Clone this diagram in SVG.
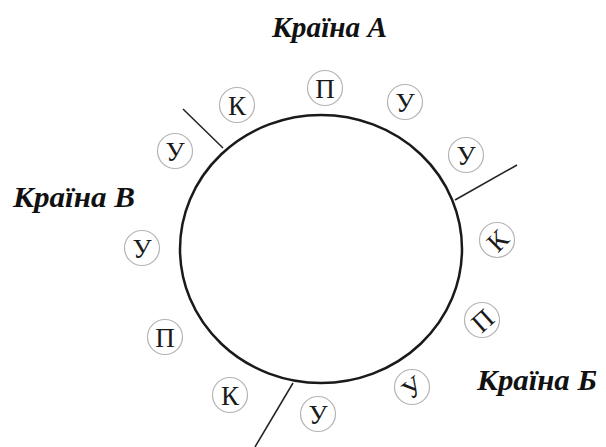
<svg xmlns="http://www.w3.org/2000/svg" width="606" height="447" viewBox="0 0 606 447">
<style>
.lbl{font-family:"Liberation Serif","Times New Roman",serif;font-weight:bold;font-style:italic;font-size:30px;fill:#111}
.sc{fill:none;stroke:#b4b4b4;stroke-width:1.2}
.lt{font-family:"Liberation Serif","Times New Roman",serif;font-size:27px;fill:#1a1a1a;text-anchor:middle;dominant-baseline:central}
.sep{stroke:#222;stroke-width:1.5;fill:none}
</style>
<rect width="606" height="447" fill="#fff"/>
<g id="world">
<ellipse cx="321" cy="249" rx="141" ry="134" fill="none" stroke="#1a1a1a" stroke-width="2.5"/>
</g>
<g id="connectors">
<line class="sep" x1="183" y1="109" x2="223" y2="148"/>
<line class="sep" x1="455" y1="200" x2="517" y2="165"/>
<line class="sep" x1="293" y1="383" x2="255" y2="447"/>
</g>
<g id="label-a"><text class="lbl" x="272" y="37" textLength="115" lengthAdjust="spacingAndGlyphs">Країна А</text></g>
<g id="label-v"><text class="lbl" x="13" y="207" textLength="122" lengthAdjust="spacingAndGlyphs">Країна В</text></g>
<g id="label-b"><text class="lbl" x="477" y="390" textLength="120" lengthAdjust="spacingAndGlyphs">Країна Б</text></g>
<g id="n1"><circle class="sc" cx="237" cy="105" r="17.5"/><text class="lt" x="237" y="106">К</text></g>
<g id="n2"><circle class="sc" cx="325" cy="88" r="17.5"/><text class="lt" x="325" y="89">П</text></g>
<g id="n3"><circle class="sc" cx="405" cy="102" r="17.5"/><text class="lt" x="405" y="103">У</text></g>
<g id="n4"><circle class="sc" cx="175" cy="151" r="17.5"/><text class="lt" x="175" y="152">У</text></g>
<g id="n5"><circle class="sc" cx="466" cy="155" r="17.5"/><text class="lt" x="466" y="156">У</text></g>
<g id="n6"><circle class="sc" cx="497" cy="240" r="17.5"/><text class="lt" x="497" y="241" transform="rotate(-45 497 240)">К</text></g>
<g id="n7"><circle class="sc" cx="482" cy="320" r="17.5"/><text class="lt" x="482" y="321" transform="rotate(-42 482 320)">П</text></g>
<g id="n8"><circle class="sc" cx="412" cy="387" r="17.5"/><text class="lt" x="412" y="388" transform="rotate(-38 412 387)">У</text></g>
<g id="n9"><circle class="sc" cx="318" cy="414" r="17.5"/><text class="lt" x="318" y="415">У</text></g>
<g id="n10"><circle class="sc" cx="230" cy="395" r="17.5"/><text class="lt" x="230" y="396">К</text></g>
<g id="n11"><circle class="sc" cx="165" cy="337" r="17.5"/><text class="lt" x="165" y="338">П</text></g>
<g id="n12"><circle class="sc" cx="142" cy="248" r="17.5"/><text class="lt" x="142" y="249">У</text></g>
</svg>
